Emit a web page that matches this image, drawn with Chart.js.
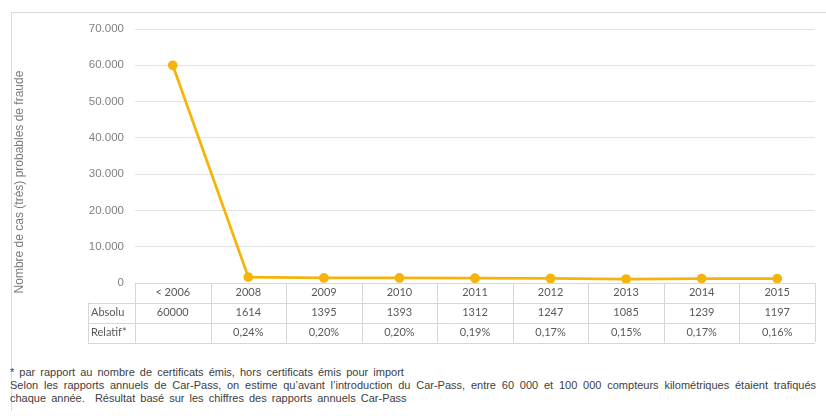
<!DOCTYPE html>
<html>
<head>
<meta charset="utf-8">
<script src="https://cdn.jsdelivr.net/npm/chart.js"></script>
<style>
  body { margin: 0; background: #fff; }
  #wrap { position: relative; width: 826px; height: 416px; overflow: hidden; }
  #frame { position: absolute; left: 11px; top: 12px; width: 830px; height: 398px;
           border-top: 1px solid #dcdcdc; border-left: 1px solid #dcdcdc; }
  #box { position: absolute; left: 0; top: 0; width: 826px; height: 350px; }
  #notes { position: absolute; left: 10px; top: 366px; width: 806px;
           font: 11px "Liberation Sans", Arial, sans-serif; line-height: 13px; color: #404040; }
  #notes p { margin: 0; white-space: nowrap; word-spacing: 2px; }
  #notes .j { text-align: justify; text-align-last: justify; white-space: normal; word-spacing: 0; }
</style>
</head>
<body>
<div id="wrap">
  <div id="frame"></div>
  <div id="box"><canvas id="myChart"></canvas></div>
  <div id="notes">
    <p>* par rapport au nombre de certificats émis, hors certificats émis pour import</p>
    <p class="j">Selon les rapports annuels de Car-Pass, on estime qu’avant l’introduction du Car-Pass, entre 60 000 et 100 000 compteurs kilométriques étaient trafiqués</p>
    <p>chaque année.&nbsp; Résultat basé sur les chiffres des rapports annuels Car-Pass</p>
  </div>
</div>
<script>
// Setup
const years = ['< 2006', '2008', '2009', '2010', '2011', '2012', '2013', '2014', '2015'];
const absolu = [60000, 1614, 1395, 1393, 1312, 1247, 1085, 1239, 1197];
const relatif = [null, 0.24, 0.20, 0.20, 0.19, 0.17, 0.15, 0.17, 0.16];
const yTicks = [0, 10000, 20000, 30000, 40000, 50000, 60000, 70000];
const yTitle = 'Nombre de cas (très) probables de fraude';

const lineColor = 'rgb(244, 180, 10)';
const gridColor = '#e2e2e2';
const tableFont = '11px Lato, "Open Sans", sans-serif';

function fmtThousands(v) {
  return String(v).replace(/\B(?=(\d{3})+(?!\d))/g, '.');
}

// table under the plot, columns follow the x scale
const dataTable = {
  id: 'dataTable',
  afterDraw(chart) {
    const { ctx, chartArea } = chart;
    const x = chart.scales.x;
    const left = chartArea.left, right = chartArea.right;
    const colW = (right - left) / years.length;
    const rowLeft = 88;
    const r0 = chartArea.bottom, r1 = r0 + 19.5, r2 = r1 + 20, r3 = r2 + 20;

    ctx.save();
    ctx.strokeStyle = '#d6d6d6';
    ctx.lineWidth = 1;
    ctx.beginPath();
    ctx.moveTo(left, r0 + 0.5); ctx.lineTo(right, r0 + 0.5);
    [r1, r2, r3].forEach(r => { ctx.moveTo(rowLeft, Math.round(r) + 0.5); ctx.lineTo(right, Math.round(r) + 0.5); });
    ctx.moveTo(rowLeft + 0.5, r1); ctx.lineTo(rowLeft + 0.5, r3);
    for (let k = 0; k <= years.length; k++) {
      const xx = Math.round(left + k * colW) + 0.5;
      ctx.moveTo(xx, r0); ctx.lineTo(xx, r3);
    }
    ctx.stroke();

    ctx.fillStyle = '#595959';
    ctx.font = tableFont;
    ctx.textBaseline = 'middle';
    ctx.textAlign = 'left';
    ctx.fillText('Absolu', rowLeft + 3, (r1 + r2) / 2);
    ctx.fillText('Relatif*', rowLeft + 3, (r2 + r3) / 2);
    ctx.textAlign = 'center';
    years.forEach((y, i) => {
      const cx = x.getPixelForValue(i);
      ctx.fillText(y, cx, (r0 + r1) / 2);
      ctx.fillText(String(absolu[i]), cx, (r1 + r2) / 2);
      if (relatif[i] !== null) {
        ctx.fillText(relatif[i].toFixed(2).replace('.', ',') + '%', cx, (r2 + r3) / 2);
      }
    });

    // axis title
    ctx.translate(20, 182);
    ctx.rotate(-Math.PI / 2);
    ctx.font = '12px "Liberation Sans", Arial, sans-serif';
    ctx.fillStyle = '#7a7a7a';
    ctx.fillText(yTitle, 0, 0);
    ctx.restore();
  }
};

const data = {
  labels: years,
  datasets: [{
    label: 'Absolu',
    data: absolu,
    borderColor: lineColor,
    backgroundColor: lineColor,
    borderWidth: 2.75,
    pointRadius: 3.5,
    pointHoverRadius: 4,
    tension: 0
  }]
};

// Config
const config = {
  type: 'line',
  data: data,
  options: {
    responsive: true,
    maintainAspectRatio: false,
    animation: false,
    layout: { padding: { top: 29, right: 11, bottom: 67, left: 0 } },
    plugins: { legend: { display: false }, tooltip: { enabled: false } },
    scales: {
      x: { type: 'category', offset: true, display: false },
      y: {
        min: 0, max: 70000,
        afterFit: s => { s.width = 135; },
        afterBuildTicks: s => { s.ticks = yTicks.map(v => ({ value: v })); },
        border: { display: false },
        grid: { color: gridColor, lineWidth: 1, drawTicks: false },
        ticks: {
          padding: 11,
          color: '#808080',
          font: { family: '"Liberation Sans", Arial, sans-serif', size: 11.5 },
          callback: v => fmtThousands(v)
        }
      }
    }
  },
  plugins: [dataTable]
};

const myChart = new Chart(document.getElementById('myChart'), config);
</script>
</body>
</html>
